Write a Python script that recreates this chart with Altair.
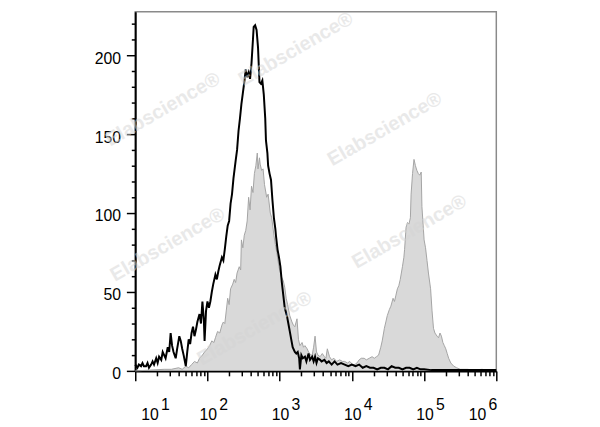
import altair as alt
import pandas as pd

# ---- black (open) histogram: log10 intensity -> count
black_exp = [
    1.00, 1.03, 1.05, 1.08, 1.10, 1.12, 1.15, 1.17, 1.19, 1.22,
    1.24, 1.26, 1.29, 1.31, 1.33, 1.36, 1.38, 1.40, 1.42, 1.45,
    1.47, 1.49, 1.51, 1.53, 1.56, 1.58, 1.61, 1.63, 1.65, 1.67,
    1.70, 1.72, 1.74, 1.76, 1.78, 1.80, 1.82, 1.84, 1.86, 1.89,
    1.91, 1.93, 1.95, 1.96, 1.98, 2.00, 2.02, 2.04, 2.06, 2.08,
    2.11, 2.13, 2.15, 2.17, 2.20, 2.22, 2.24, 2.26, 2.28, 2.30,
    2.32, 2.34, 2.36, 2.39, 2.41, 2.43, 2.45, 2.47, 2.49, 2.51,
    2.53, 2.55, 2.57, 2.59, 2.61, 2.63, 2.64, 2.66, 2.68, 2.70,
    2.72, 2.74, 2.76, 2.78, 2.80, 2.81, 2.83, 2.84, 2.86, 2.88,
    2.90, 2.92, 2.94, 2.95, 2.97, 2.99, 3.01, 3.03, 3.05, 3.07,
    3.10, 3.12, 3.14, 3.16, 3.18, 3.21, 3.23, 3.25, 3.27, 3.28,
    3.30, 3.32, 3.35, 3.37, 3.40, 3.42, 3.45, 3.47, 3.49, 3.51,
    3.53, 3.56, 3.58, 3.62, 3.65, 3.68, 3.72, 3.76, 3.80, 3.85,
    3.90, 3.95, 4.00, 4.05, 4.10, 4.15, 4.20, 4.25, 4.30, 4.35,
    4.40, 4.45, 4.50, 4.55, 4.60, 4.65, 4.70, 4.75, 4.80, 4.85,
    4.90, 4.95, 5.00, 5.10, 5.20, 5.30, 5.40, 5.50, 5.60, 5.70,
    5.80, 5.90, 6.00,
]
black_count = [
    4, 2, 4, 3, 5, 3, 3, 5, 2, 4,
    6, 4, 8, 5, 9, 7, 12, 10, 8, 15,
    12, 24, 16, 12, 8, 14, 22, 19, 14, 10,
    3, 12, 20, 17, 24, 28, 22, 26, 31, 36,
    30, 44, 32, 19, 38, 44, 40, 44, 50, 55,
    61, 58, 63, 67, 72, 70, 77, 85, 92, 95,
    106, 112, 122, 133, 140, 152, 160, 169, 176, 183,
    191, 186, 189, 185, 195, 210, 218, 219, 216, 205,
    183, 182, 184, 175, 160, 146, 138, 130, 125, 121,
    108, 97, 90, 85, 77, 72, 66, 56, 48, 40,
    35, 30, 25, 20, 15, 12, 11, 12, 8, 1,
    10, 8, 9, 6, 11, 7, 9, 6, 9, 5,
    8, 7, 6, 7, 5, 6, 4, 6, 4, 5,
    4, 3, 4, 3, 4, 2, 3, 2, 2, 1,
    2, 2, 1, 3, 2, 2, 1, 2, 2, 1,
    2, 1, 1, 0.5, 0.5, 0.5, 0.5, 0.5, 0.5, 0.5,
    0.5, 0.5, 0.5,
]

# ---- grey (filled) histogram: log10 intensity -> count
gray_exp = [
    1.00, 1.20, 1.40, 1.50, 1.60, 1.65, 1.70, 1.74, 1.78, 1.82,
    1.86, 1.89, 1.93, 1.96, 2.00, 2.03, 2.06, 2.09, 2.11, 2.14,
    2.17, 2.20, 2.22, 2.24, 2.26, 2.28, 2.30, 2.32, 2.35, 2.37,
    2.39, 2.41, 2.44, 2.46, 2.47, 2.49, 2.51, 2.53, 2.55, 2.57,
    2.59, 2.61, 2.63, 2.65, 2.67, 2.69, 2.70, 2.72, 2.73, 2.75,
    2.77, 2.79, 2.82, 2.84, 2.87, 2.89, 2.92, 2.94, 2.96, 2.99,
    3.02, 3.05, 3.07, 3.09, 3.11, 3.14, 3.17, 3.19, 3.21, 3.24,
    3.26, 3.28, 3.31, 3.33, 3.35, 3.38, 3.40, 3.43, 3.45, 3.47,
    3.49, 3.51, 3.53, 3.56, 3.59, 3.62, 3.64, 3.66, 3.69, 3.72,
    3.75, 3.79, 3.83, 3.87, 3.90, 3.94, 3.97, 4.01, 4.04, 4.07,
    4.10, 4.13, 4.17, 4.20, 4.24, 4.28, 4.31, 4.34, 4.37, 4.40,
    4.42, 4.45, 4.47, 4.49, 4.52, 4.54, 4.57, 4.59, 4.61, 4.63,
    4.65, 4.67, 4.70, 4.72, 4.73, 4.75, 4.77, 4.79, 4.81, 4.82,
    4.84, 4.86, 4.88, 4.90, 4.92, 4.94, 4.96, 4.97, 4.99, 5.00,
    5.02, 5.04, 5.06, 5.09, 5.11, 5.13, 5.15, 5.18, 5.20, 5.22,
    5.24, 5.26, 5.28, 5.30, 5.32, 5.34, 5.37, 5.41, 5.45, 5.50,
    5.60, 5.70, 5.80, 5.90, 6.00,
]
gray_count = [
    0, 0.5, 1, 1, 2, 1, 3, 2, 4, 6,
    5, 8, 10, 12, 14, 16, 19, 18, 21, 25,
    24, 29, 31, 30, 38, 46, 42, 52, 55, 58,
    56, 62, 66, 64, 83, 78, 86, 89, 95, 110,
    102, 117, 113, 125, 130, 138, 128, 135, 131, 127,
    128, 118, 110, 112, 100, 97, 86, 80, 75, 66,
    60, 57, 53, 46, 42, 35, 31, 29, 28, 33,
    20, 16, 18, 15, 16, 14, 12, 10, 10, 15,
    22, 12, 10, 9, 11, 9, 8, 14, 9, 7,
    8, 6, 7, 6, 6, 5, 6, 4, 4, 5,
    7, 8, 8, 7, 8, 9, 8, 9, 10, 15,
    19, 27, 31, 35, 39, 41, 46, 44, 48, 52,
    54, 58, 66, 72, 77, 91, 94, 93, 97, 112,
    125, 134, 130, 127, 125, 124, 126, 104, 90, 83,
    78, 70, 62, 52, 38, 27, 24, 22, 21, 24,
    22, 18, 16, 14, 11, 8, 5, 3, 2, 1,
    1, 0.5, 1, 0.5, 0.5,
]

decades = [1, 2, 3, 4, 5, 6]
decade_base = "10"
y_major = [0, 50, 100, 150, 200]
y_minor_step = 10
y_max = 227.5
watermark = "Elabscience®"

black_df = pd.DataFrame({"intensity": [10 ** e for e in black_exp], "count": black_count})
gray_df = pd.DataFrame({"intensity": [10 ** e for e in gray_exp], "count": gray_count})
dec_df = pd.DataFrame({"intensity": [10 ** d for d in decades], "exp": [str(d) for d in decades],
                       "base": [decade_base] * len(decades)})

x_ticks = [m * 10 ** d for d in decades[:-1] for m in range(1, 10)] + [10 ** decades[-1]]
y_ticks = list(range(0, 221, y_minor_step))

W, H = 366, 364
FONT = "Liberation Sans"

is_decade = "abs(log(datum.value)/LN10 - round(log(datum.value)/LN10)) < 0.001"
is_major_y = "indexof([" + ",".join(map(str, y_major)) + "], datum.value) >= 0"

x_scale = alt.Scale(type="log", domain=[10 ** decades[0], 10 ** decades[-1]], nice=False)
y_scale = alt.Scale(domain=[0, y_max], nice=False, zero=True)

x_axis = alt.Axis(
    values=x_ticks, title=None, grid=False, labels=False,
    domainColor="black", domainWidth=2,
    tickColor="black", tickWidth=1.5,
    tickSize={"condition": {"test": is_decade, "value": 10}, "value": 5},
)
y_axis = alt.Axis(
    values=y_ticks, title=None, grid=False,
    domainColor="black", domainWidth=2,
    tickColor="black", tickWidth=1.5,
    tickSize={"condition": {"test": is_major_y, "value": 9}, "value": 4},
    labelExpr=f"{is_major_y} ? datum.label : ''",
    labelFont=FONT, labelFontSize=16, labelColor="black",
    labelPadding=6, labelOverlap=False, labelOffset=3,
)

X = alt.X("intensity:Q", scale=x_scale, axis=x_axis)

gray_area = alt.Chart(gray_df).mark_area(
    color="#c9c9c9", line={"color": "#a4a4a4", "strokeWidth": 1}, interpolate="linear"
).encode(
    x=X,
    y=alt.Y("count:Q", scale=y_scale, axis=y_axis, stack=None),
)

black_line = alt.Chart(black_df).mark_line(color="black", strokeWidth=2).encode(
    x=X,
    y=alt.Y("count:Q", scale=y_scale, axis=y_axis),
)

# decade tick labels "10" with raised exponent, placed on the x scale
def dec_labels(filt, dx_base):
    base = alt.Chart(dec_df).transform_filter(filt).mark_text(
        font=FONT, fontSize=16, color="black", align="left", baseline="alphabetic", dx=dx_base
    ).encode(x=X, y=alt.value(H + 50), text="base:N")
    sup = alt.Chart(dec_df).transform_filter(filt).mark_text(
        font=FONT, fontSize=16, color="black", align="left", baseline="alphabetic", dx=dx_base + 20
    ).encode(x=X, y=alt.value(H + 40), text="exp:N")
    return [base, sup]

lo, hi = 10 ** decades[0], 10 ** decades[-1]
label_layers = (
    dec_labels(f"datum.intensity == {lo}", 6)
    + dec_labels(f"datum.intensity > {lo} && datum.intensity < {hi}", -8)
    + dec_labels(f"datum.intensity == {hi}", -28)
)

wm_df = pd.DataFrame({"t": [watermark]})
wm_layers = []
for px, py in [(163, 38), (28, 99), (253, 119), (33, 236), (278, 223), (121, 321)]:
    wm_layers.append(
        alt.Chart(wm_df).mark_text(
            font=FONT, fontSize=20, fontWeight="bold", angle=330,
            color="#d4d4d4", opacity=0.5, align="center", baseline="middle",
        ).encode(text="t:N", x=alt.value(px), y=alt.value(py))
    )

chart = alt.layer(gray_area, black_line, *label_layers, *wm_layers).properties(
    width=W, height=H,
    autosize=alt.AutoSizeParams(type="none"),
    padding={"left": 129, "top": 1, "right": 97, "bottom": 54},
).configure_view(stroke="#8a8a8a", strokeWidth=1.5).configure_axis(labelOverlap=False)

chart.save("out.html", embed_options={"renderer": "svg", "actions": False})
